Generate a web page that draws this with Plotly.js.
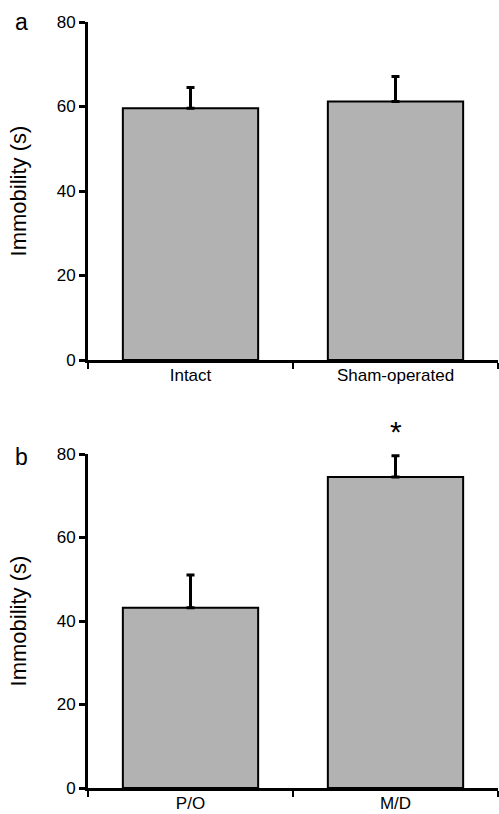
<!DOCTYPE html>
<html>
<head>
<meta charset="utf-8">
<script src="https://cdn.plot.ly/plotly-3.0.1.min.js"></script>
<style>
html,body{margin:0;padding:0;background:#fff;}
#chart{width:499px;height:814px;}
</style>
</head>
<body>
<div id="chart"></div>
<script>
// Panel a
var catsA = ['Intact', 'Sham-operated'];
var valsA = [59.6, 61.2];
var errA  = [4.9, 5.9];
// Panel b
var catsB = ['P/O', 'M/D'];
var valsB = [43.2, 74.5];
var errB  = [7.8, 5.1];
var zeros = [0, 0];

var yTicks = [0, 20, 40, 60, 80];
var panelLabels = ['a', 'b'];
var yTitle = 'Immobility (s)';
var sigMark = '*';

var FONT = 'Liberation Sans, Arial, Helvetica, sans-serif';
var barColor = '#b2b2b2';

function barTrace(x, y, err, xa, ya) {
  return {
    type: 'bar', x: x, y: y, xaxis: xa, yaxis: ya, width: 0.66,
    marker: {color: barColor, line: {color: '#000', width: 2}},
    error_y: {type: 'data', symmetric: false, array: err, arrayminus: zeros,
              color: '#000', thickness: 3, width: 4},
    hoverinfo: 'none', showlegend: false, cliponaxis: false
  };
}

var data = [
  barTrace(catsA, valsA, errA, 'x', 'y'),
  barTrace(catsB, valsB, errB, 'x2', 'y2')
];

function xAxis(anchor) {
  return {
    anchor: anchor, domain: [0, 1], type: 'category', range: [-0.5, 1.5],
    showline: true, linewidth: 3, linecolor: '#000', mirror: false,
    ticks: 'outside', tickson: 'boundaries', ticklen: 6, tickwidth: 2, tickcolor: '#000',
    tickfont: {family: FONT, size: 17, color: '#000'},
    ticklabelstandoff: -2,
    showgrid: false, zeroline: false, fixedrange: true
  };
}
function yAxis(anchor, dom) {
  return {
    anchor: anchor, domain: dom, range: [0, 80], tickvals: yTicks,
    showline: true, linewidth: 3, linecolor: '#000',
    ticks: 'outside', ticklen: 6, tickwidth: 3, tickcolor: '#000',
    tickfont: {family: FONT, size: 17, color: '#000'},
    title: {text: yTitle, font: {family: FONT, size: 22, color: '#000'}, standoff: 24},
    showgrid: false, zeroline: false, fixedrange: true
  };
}

var layout = {
  width: 499, height: 814,
  margin: {l: 88, r: 1, t: 22, b: 26},
  paper_bgcolor: '#fff', plot_bgcolor: '#fff',
  font: {family: FONT, color: '#000'},
  bargap: 0.34,
  xaxis: xAxis('y'),
  yaxis: yAxis('x', [0.5587, 1]),
  xaxis2: xAxis('y2'),
  yaxis2: yAxis('x2', [0, 0.436]),
  annotations: [
    {text: panelLabels[0], xref: 'paper', yref: 'paper', x: -0.163, y: 1.0,
     xanchor: 'center', yanchor: 'middle', showarrow: false, font: {family: FONT, size: 23}},
    {text: panelLabels[1], xref: 'paper', yref: 'paper', x: -0.163, y: 0.432,
     xanchor: 'center', yanchor: 'middle', showarrow: false, font: {family: FONT, size: 23}},
    {text: sigMark, xref: 'x2', yref: 'paper', x: catsB[1], y: 0.466,
     xanchor: 'center', yanchor: 'middle', showarrow: false, font: {family: FONT, size: 30}}
  ]
};

Plotly.newPlot('chart', data, layout, {displayModeBar: false, staticPlot: true});
</script>
</body>
</html>
